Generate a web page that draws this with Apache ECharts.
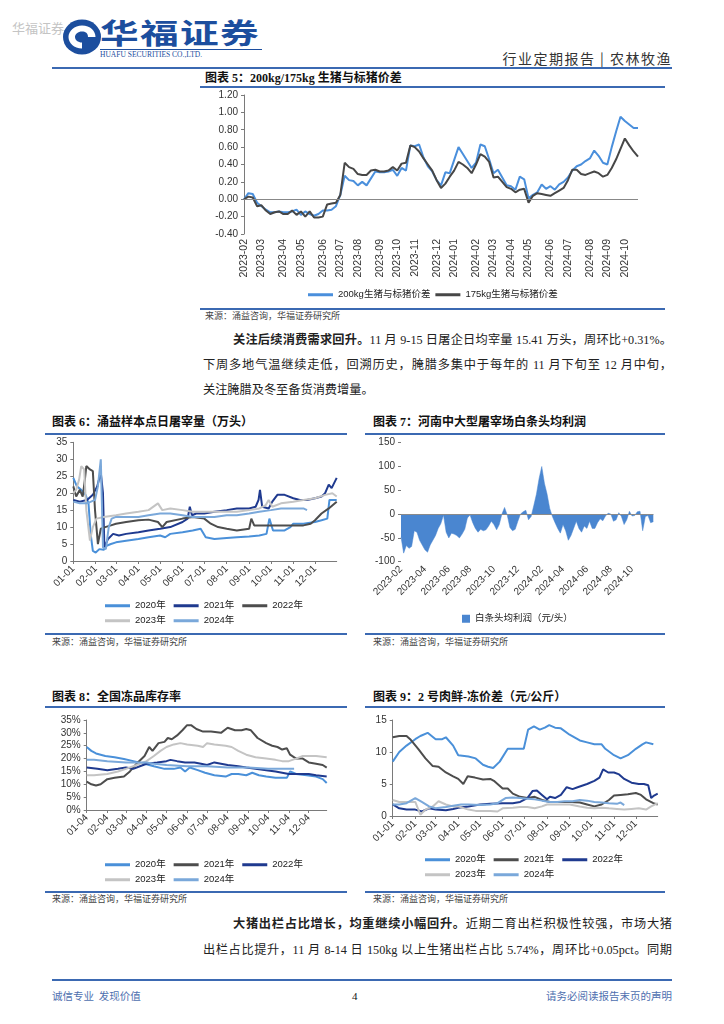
<!DOCTYPE html>
<html><head><meta charset="utf-8"><title>农林牧渔</title>
<script src="https://cdn.jsdelivr.net/npm/echarts@6.0.0/dist/echarts.min.js"></script>
<style>
html,body{margin:0;padding:0;background:#fff}
body{width:724px;height:1024px;position:relative;overflow:hidden;font-family:"Liberation Serif","Noto Sans CJK SC",serif;color:#222}
.a{position:absolute;white-space:nowrap;line-height:1}
.rule{position:absolute;height:1.5px;background:#3B69B2}
.t{font-weight:bold;font-size:12px;color:#111}
.s{font-size:9px;color:#444;font-family:"Noto Sans CJK SC",sans-serif}
.p{font-size:12.2px;color:#222}
.j{text-align:justify;text-align-last:justify}
.c{position:absolute}
</style></head><body>

<!-- header -->
<div class="a" style="left:12px;top:21px;font-size:13px;color:#c4c4c4;font-family:'Noto Sans CJK SC'">华福证券</div>
<svg class="c" style="left:62px;top:18px" width="40" height="38" viewBox="0 0 40 38">
 <ellipse cx="20" cy="19" rx="19" ry="17.5" fill="#1C4E9E"/>
 <path d="M20 7.5 C28.5 7.5 33.5 13 33.5 19 L26 19 C26 15 23.5 13.5 20 13.5 C16 13.5 13 16 13 19 C13 22 16 24.5 20 24.5 L20 30.5 C12 30.5 6.5 25 6.5 19 C6.5 13 12.5 7.5 20 7.5Z" fill="#fff"/>
 <path d="M20 15 L25 19.5 L20 24 L15 19.5Z" fill="#1C4E9E"/>
</svg>
<div class="a" style="left:100px;top:18px;font-size:28px;font-weight:bold;color:#1C4E9E;font-family:'Noto Sans CJK SC';letter-spacing:1px;transform:scaleX(1.38);transform-origin:left top">华福证券</div>
<div class="c" style="left:100px;top:49px;width:162px;height:1px;background:#1C4E9E"></div>
<div class="a" style="left:100px;top:51px;font-size:7.5px;color:#1C4E9E">HUAFU SECURITIES CO.,LTD.</div>
<div class="a" style="right:52px;top:51px;font-size:14px;color:#333;letter-spacing:1.5px;font-family:'Noto Sans CJK SC'">行业定期报告 | 农林牧渔</div>
<div class="c" style="left:52px;top:67px;width:620px;height:2px;background:#3B69B2"></div>

<!-- chart 5 -->
<div class="a t" style="left:205px;top:72px">图表 5：200kg/175kg 生猪与标猪价差</div>
<div class="rule" style="left:200px;top:86px;width:465px"></div>
<div id="c5" class="c" style="left:200px;top:88px;width:470px;height:218px"></div>
<div class="rule" style="left:200px;top:308px;width:465px"></div>
<div class="a s" style="left:205px;top:311px">来源：涌益咨询，华福证券研究所</div>

<!-- paragraph 1 -->
<div class="a p j" style="left:233px;top:334px;width:439px"><b>关注后续消费需求回升。</b>11 月 9-15 日屠企日均宰量 15.41 万头，周环比+0.31%。</div>
<div class="a p j" style="left:203px;top:359px;width:469px">下周多地气温继续走低，回溯历史，腌腊多集中于每年的 11 月下旬至 12 月中旬，</div>
<div class="a p" style="left:203px;top:384px">关注腌腊及冬至备货消费增量。</div>

<!-- chart 6 -->
<div class="a t" style="left:52px;top:416px">图表 6：涌益样本点日屠宰量（万头）</div>
<div class="rule" style="left:45px;top:433px;width:302px"></div>
<div id="c6" class="c" style="left:45px;top:435px;width:300px;height:197px"></div>
<div class="rule" style="left:45px;top:633px;width:302px"></div>
<div class="a s" style="left:52px;top:637px">来源：涌益咨询，华福证券研究所</div>

<!-- chart 7 -->
<div class="a t" style="left:373px;top:416px">图表 7：河南中大型屠宰场白条头均利润</div>
<div class="rule" style="left:365px;top:433px;width:300px"></div>
<div id="c7" class="c" style="left:365px;top:435px;width:300px;height:197px"></div>
<div class="rule" style="left:365px;top:633px;width:300px"></div>
<div class="a s" style="left:373px;top:637px">来源：涌益咨询，华福证券研究所</div>

<!-- chart 8 -->
<div class="a t" style="left:52px;top:691px">图表 8：全国冻品库存率</div>
<div class="rule" style="left:45px;top:706px;width:302px"></div>
<div id="c8" class="c" style="left:45px;top:708px;width:300px;height:182px"></div>
<div class="rule" style="left:45px;top:891px;width:302px"></div>
<div class="a s" style="left:52px;top:894px">来源：涌益咨询，华福证券研究所</div>

<!-- chart 9 -->
<div class="a t" style="left:373px;top:691px">图表 9：2 号肉鲜-冻价差（元/公斤）</div>
<div class="rule" style="left:365px;top:706px;width:300px"></div>
<div id="c9" class="c" style="left:365px;top:708px;width:300px;height:182px"></div>
<div class="rule" style="left:365px;top:891px;width:300px"></div>
<div class="a s" style="left:373px;top:894px">来源：涌益咨询，华福证券研究所</div>

<!-- paragraph 2 -->
<div class="a p j" style="left:233px;top:918px;width:439px"><b>大猪出栏占比增长，均重继续小幅回升。</b>近期二育出栏积极性较强，市场大猪</div>
<div class="a p j" style="left:203px;top:944px;width:469px">出栏占比提升，11 月 8-14 日 150kg 以上生猪出栏占比 5.74%，周环比+0.05pct。同期</div>

<!-- footer -->
<div class="c" style="left:52px;top:979px;width:620px;height:2px;background:#3B69B2"></div>
<div class="a" style="left:52px;top:991px;font-size:10.5px;color:#4E6FAF;font-family:'Noto Sans CJK SC'">诚信专业&nbsp;&nbsp;发现价值</div>
<div class="a" style="left:352px;top:991px;font-size:11px;color:#111">4</div>
<div class="a" style="right:52px;top:991px;font-size:10.5px;color:#4E6FAF;font-family:'Noto Sans CJK SC'">请务必阅读报告末页的声明</div>

<script>
// ---------------- data ----------------
// chart 5: weekly from 2023-02-01
const c5Start = '2023-02-01';
const pig200 = [0.00,0.07,0.06,-0.04,-0.08,-0.12,-0.15,-0.15,-0.14,-0.15,
 -0.15,-0.14,-0.12,-0.18,-0.14,-0.17,-0.19,-0.17,-0.13,-0.13,
 -0.12,-0.08,0.05,0.27,0.22,0.21,0.16,0.20,0.16,0.24,
 0.32,0.31,0.31,0.32,0.34,0.27,0.36,0.33,0.62,0.61,
 0.63,0.48,0.38,0.32,0.22,0.16,0.31,0.30,0.45,0.60,
 0.52,0.44,0.36,0.42,0.63,0.61,0.46,0.30,0.34,0.25,
 0.16,0.15,0.11,0.26,0.23,0.01,0.05,0.08,0.17,0.12,
 0.15,0.11,0.17,0.20,0.25,0.33,0.38,0.40,0.44,0.47,
 0.56,0.50,0.42,0.40,0.60,0.78,0.95,0.90,0.86,0.82,0.82];
const pig175 = [0.00,0.03,0.02,-0.08,-0.07,-0.13,-0.17,-0.15,-0.14,-0.17,
 -0.17,-0.13,-0.18,-0.14,-0.20,-0.14,-0.21,-0.21,-0.20,-0.06,
 -0.05,-0.04,0.05,0.42,0.37,0.35,0.29,0.28,0.28,0.33,
 0.34,0.32,0.32,0.33,0.37,0.33,0.41,0.42,0.62,0.60,
 0.55,0.47,0.40,0.33,0.22,0.13,0.18,0.26,0.33,0.43,
 0.40,0.36,0.30,0.40,0.52,0.49,0.43,0.25,0.26,0.20,
 0.14,0.12,0.08,0.11,0.12,-0.04,0.04,0.07,0.06,0.05,
 0.04,0.07,0.10,0.13,0.22,0.34,0.34,0.29,0.28,0.30,
 0.32,0.30,0.26,0.28,0.36,0.46,0.58,0.70,0.62,0.55,0.49];
const names5 = ['200kg生猪与标猪价差','175kg生猪与标猪价差'];

// chart 6: daily slaughter (万头)
const sl2020 = [['01-01',24.5],['01-06',22],['01-12',21],['01-18',19.5],['01-22',17],['01-25',8],['01-28',3],['02-01',2.5],['02-06',3.5],['02-12',3.3],['02-16',4.5],['02-22',5],['03-01',5.5],['03-15',6],['04-01',6.5],['04-15',7],['05-01',7.5],['05-08',7],['05-15',8],['06-01',8.5],['06-15',9],['06-26',9.5],['07-03',7],['07-15',6.5],['08-01',6.8],['08-15',7],['09-01',7.2],['09-15',7.5],['09-25',8],['09-29',12.5],['10-04',9],['10-20',9],['10-28',10],['11-01',11],['11-15',11],['12-01',11.5],['12-10',12],['12-18',12.5],['12-21',18],['12-31',18]];
const sl2021 = [['01-01',18],['01-10',17.5],['01-20',18],['01-28',19.5],['02-03',22],['02-08',26],['02-11',20],['02-13',4],['02-18',6.5],['02-25',8],['03-05',7.5],['03-15',8],['04-01',8.5],['04-15',9],['05-01',9.5],['05-15',10],['06-01',11.5],['06-08',12.5],['06-11',16],['06-14',13.5],['06-20',14],['07-01',14],['07-15',14.5],['08-01',15],['08-15',15.5],['09-01',15.5],['09-10',16],['09-14',18],['09-16',21],['09-19',16],['09-28',15.5],['10-03',17.5],['10-10',19.5],['10-20',19.5],['11-01',18.5],['11-10',18],['11-20',18],['12-01',18.5],['12-10',19],['12-15',20],['12-20',22.5],['12-24',21.5],['12-31',24.5]];
const sl2022 = [['01-01',22],['01-05',19],['01-10',21],['01-14',19],['01-17',24],['01-19',28],['01-24',27],['01-28',26.5],['01-31',15],['02-04',5],['02-08',9.5],['02-14',10],['02-22',10.5],['03-01',11],['03-15',11.5],['04-01',12],['04-15',12.2],['04-28',11.5],['05-04',10],['05-10',11.5],['06-01',12.5],['06-15',13],['07-01',12.5],['07-10',11],['07-20',10],['08-01',9.5],['08-15',9],['09-01',9.5],['09-04',12.5],['09-08',10.5],['10-01',10.5],['10-15',10.5],['11-01',10.5],['11-15',10.5],['11-25',11],['12-01',12],['12-10',14],['12-20',15.5],['12-31',17.5]];
const sl2023 = [['01-01',20],['01-05',21],['01-09',24],['01-12',28],['01-16',27],['01-19',15],['01-24',6],['01-28',10],['02-02',12.5],['02-12',13],['03-01',13.5],['03-15',14],['04-01',14.5],['04-15',15],['04-28',17],['05-04',15],['05-15',15.5],['06-01',15],['06-15',14.5],['07-01',14.5],['08-01',14.5],['08-15',14.5],['09-01',15],['09-15',15.5],['09-24',16.5],['09-28',18],['10-03',16],['10-15',17],['11-01',17.5],['11-15',18],['12-01',18.5],['12-15',19.5],['12-25',20],['12-31',19]];
const sl2024 = [['01-01',17.5],['01-10',17],['01-20',17],['01-31',18],['02-04',22],['02-08',30],['02-11',4],['02-15',3.5],['02-19',10],['02-23',12.5],['03-01',13],['03-15',13],['04-01',13],['04-15',13.5],['05-01',14],['05-15',14],['06-01',13.5],['06-15',13],['07-01',13],['07-15',13],['08-01',13.5],['08-15',13.5],['09-01',14],['09-15',14.5],['10-01',15],['10-15',15.5],['11-01',15.5],['11-15',15.5],['11-20',15]];

// chart 7: weekly profit (元/头) from 2023-02-01
const c7Start = '2023-02-01';
const profit = [-48,-82,-66,-72,-68,-35,-38,-55,-65,-75,
 -80,-65,-55,-45,-30,-20,-2,-38,-50,-40,
 -42,-45,-50,-42,-32,-8,-2,-18,-30,-38,
 -32,-35,-33,-25,-15,-22,-33,-22,0,14,
 -2,-28,-35,-32,-15,0,5,8,-12,-5,
 18,42,75,100,65,42,12,-5,-18,-30,
 -40,-22,-35,-55,-45,-30,-15,-30,-38,-25,
 -30,-15,-30,-30,-18,-10,-14,-4,2,0,
 -15,-12,3,-5,-22,-12,6,-4,-3,5,
 6,-35,-5,-3,-18,-16];

// chart 8: frozen inventory rate (%)
const inv2020 = [['01-04',24.5],['01-11',23],['01-18',22],['02-01',21],['02-15',20.5],['03-01',19.8],['03-15',19],['04-01',18],['04-15',17],['05-01',16],['05-15',16],['05-25',16.5],['06-01',15],['06-08',16.5],['06-20',15.5],['07-01',14.5],['07-15',13.5],['08-01',13],['08-10',14],['08-20',14],['09-01',13.5],['09-10',14.5],['09-20',13.5],['10-01',13],['10-15',12.5],['11-01',12.5],['11-06',15],['11-15',14],['12-01',13.5],['12-15',13],['12-25',12],['12-31',10.5]];
const inv2021 = [['01-04',11],['01-11',10],['01-18',9.5],['01-25',10],['02-04',12],['02-15',12.5],['03-01',13],['03-10',15],['03-20',18],['04-01',21],['04-08',24.5],['04-13',23],['04-22',26],['05-01',26.5],['05-06',28],['05-12',27.5],['05-20',29],['05-28',31],['06-04',33],['06-10',33],['06-18',31.5],['06-28',30.5],['07-10',30.5],['07-25',30],['08-04',32],['08-15',31],['08-25',31],['09-01',31.5],['09-08',31],['09-18',28],['10-01',26],['10-10',25],['10-18',24.5],['10-25',23.5],['11-01',24],['11-06',21.5],['11-15',20],['11-25',20],['12-04',18.5],['12-15',18],['12-25',17.5],['12-31',16.5]];
const inv2022 = [['01-04',16.5],['01-20',16],['02-04',15.5],['02-20',16],['03-04',16.5],['03-15',16],['03-25',17],['04-04',18],['04-20',18.5],['05-04',19],['05-10',19.5],['05-20',19],['06-01',18.5],['06-15',18.5],['06-25',18],['07-04',17.5],['07-15',18.5],['07-25',18],['08-04',17.5],['08-20',17],['09-01',16.5],['09-15',16],['10-01',15.5],['10-15',15],['10-25',14.5],['11-04',14],['11-25',14],['12-04',14],['12-15',13.5],['12-31',13]];
const inv2023 = [['01-04',13.5],['01-15',13.5],['02-04',14],['02-20',15],['03-04',16],['03-20',17.5],['04-04',19],['04-15',21],['04-25',23],['05-04',24.5],['05-15',25.5],['05-25',26],['06-04',25.5],['06-20',25],['06-28',24.5],['07-04',26],['07-15',25.5],['08-01',25],['08-10',24.5],['08-20',23],['09-01',21.5],['09-15',20.5],['10-01',20],['10-15',19.5],['10-25',19],['11-04',19],['11-15',20],['11-25',21],['12-04',21],['12-15',21],['12-31',20.5]];
const inv2024 = [['01-04',19.5],['01-15',19.5],['02-04',19],['03-04',18.5],['03-20',18.5],['04-04',18.5],['04-15',18],['05-04',17.5],['06-04',17],['07-04',17],['08-04',16.5],['09-04',16.5],['10-04',16],['11-04',16],['11-12',16]];

// chart 9: fresh-frozen spread (元/公斤)
const sp2020 = [['01-01',8.5],['01-10',10],['01-20',11],['02-01',12],['02-08',12.5],['02-18',13],['03-01',12],['03-10',12],['03-15',12.3],['03-25',11],['04-01',9.5],['04-15',9.3],['04-25',9],['05-05',8],['05-12',7.7],['05-19',7.5],['05-28',8.5],['06-08',10.5],['06-20',10.5],['06-30',10.5],['07-06',13.5],['07-14',14],['07-22',13.5],['07-29',13.8],['08-04',14.2],['08-12',13.8],['08-20',13.7],['09-01',12.7],['09-15',11.8],['09-25',11.5],['10-05',11.2],['10-15',11.2],['10-20',10.5],['11-01',9.5],['11-10',9],['11-20',9.5],['12-01',10.5],['12-10',11.2],['12-15',11.5],['12-25',11.2]];
const sp2021 = [['01-01',12.3],['01-10',12.5],['01-20',12.5],['01-25',12],['02-05',10.5],['02-15',9],['02-25',7.8],['03-05',7.7],['03-15',6.8],['03-25',6.2],['04-01',5.8],['04-08',5],['04-14',6.2],['04-24',6],['05-05',5.7],['05-15',5.8],['05-20',5.5],['06-01',4.3],['06-08',4.3],['06-15',3.5],['06-25',3],['07-05',2.8],['07-15',3],['07-25',2.5],['08-05',2.2],['08-20',2.2],['09-01',2.2],['09-15',2.1],['09-25',1.8],['10-05',1.5],['10-15',1.8],['10-25',2.5],['11-01',3.2],['11-10',3.3],['11-20',3.4],['12-01',3.6],['12-08',3.3],['12-15',2.6],['12-25',2],['12-31',1.8]];
const sp2022 = [['01-01',1.8],['01-10',1.2],['01-20',1.0],['02-01',1.0],['02-10',0.7],['02-20',1.2],['03-01',1.0],['03-15',0.9],['03-25',1.1],['04-01',1.3],['04-15',1.5],['05-01',1.8],['05-15',1.9],['06-01',2],['06-15',2],['06-25',2.2],['07-05',2.8],['07-12',3.9],['07-18',4],['07-25',3.3],['08-01',2.6],['08-05',3],['08-12',2.8],['08-20',3.3],['08-28',4.5],['09-05',4.2],['09-12',4.5],['09-25',5],['10-05',5.5],['10-12',6],['10-17',7.3],['10-24',6.8],['11-01',6.8],['11-08',6.5],['11-15',5.8],['11-25',5.2],['12-05',5],['12-12',5],['12-18',4.8],['12-22',2.8],['12-26',3.2],['12-31',3.5]];
const sp2023 = [['01-01',2.5],['01-10',2.2],['01-25',2.2],['02-01',2.2],['02-08',0.2],['02-15',1.0],['02-25',1.5],['03-05',2.3],['03-15',1.8],['03-25',1.5],['04-01',1.5],['04-15',1.0],['04-25',0.8],['05-05',0.8],['05-15',0.8],['05-25',0.7],['06-01',1.2],['06-15',1.3],['06-25',1.4],['07-05',1.4],['07-15',1.2],['07-25',1.5],['08-01',1.8],['08-15',1.8],['09-01',1.8],['09-15',1.5],['09-25',1.3],['10-05',1.2],['10-15',1.3],['10-25',1.2],['11-05',1.1],['11-15',1.0],['11-25',1.1],['12-05',1.2],['12-15',1.0],['12-22',1.5],['12-31',2]];
const sp2024 = [['01-01',1.8],['01-10',1.8],['01-20',2.0],['02-01',2.8],['02-10',2.2],['02-20',1.5],['03-01',1.2],['03-15',1.4],['03-25',1.6],['04-05',1.8],['04-15',1.8],['05-01',1.7],['05-15',1.8],['05-25',2],['06-05',2.8],['06-15',2.9],['06-25',2.8],['07-05',2.7],['07-15',2.6],['07-25',2.4],['08-05',2.2],['08-15',2.2],['08-25',2.3],['09-05',2.3],['09-15',2.5],['09-25',2.4],['10-05',2.2],['10-15',2.1],['10-25',2.0],['11-05',1.9],['11-10',2.1],['11-15',1.7]];

const years = ['2020年','2021年','2022年','2023年','2024年'];

// ---------------- helpers ----------------
const FONT = '"Liberation Sans", Arial, "Noto Sans CJK SC", sans-serif';
const AX = '#7a7a7a', LBL = '#333';
function weekly(start, n){ const out=[]; const t0=Date.parse(start+'T00:00:00Z'); for(let i=0;i<n;i++){ out.push(new Date(t0+i*7*86400000).toISOString().slice(0,10)); } return out; }
function dayCats(startMD){ const out=[]; const t0=Date.UTC(2023,0,1); for(let i=0;i<365;i++){ out.push(new Date(t0+i*86400000).toISOString().slice(5,10)); } return out.slice(out.indexOf(startMD)); }
function monthFlags(dates){ return dates.map((d,i)=> i===0 || d.slice(5,7)!==dates[i-1].slice(5,7)); }
function line(name, data, color, w){ return {name, type:'line', data, symbol:'none', smooth:false, lineStyle:{color, width:w||2}, itemStyle:{color}, emphasis:{disabled:true}, z:2}; }
function legendRow(top, left, data){ return {top, left, data, icon:'rect', itemWidth:25, itemHeight:3, itemGap:8, padding:0, textStyle:{fontSize:9.5, color:'#222', fontFamily:FONT}}; }
function yAx(min,max,iv,fmt,showLine){ return {type:'value', min, max, interval:iv, splitLine:{show:false}, axisLine:{show:showLine!==false, lineStyle:{color:AX}}, axisTick:{show:true, length:3, lineStyle:{color:AX}}, axisLabel:{fontSize:10, color:LBL, fontFamily:FONT, margin:6, formatter:fmt}}; }
function dayAxis(cats, day){ const f=(i,v)=>v.slice(3)===day; return {type:'category', data:cats, boundaryGap:false, axisLine:{lineStyle:{color:AX}}, axisTick:{interval:f, length:3, lineStyle:{color:AX}}, axisLabel:{interval:f, rotate:45, fontSize:10, color:LBL, fontFamily:FONT, margin:6}}; }
const mk = (el)=>echarts.init(document.getElementById(el), null, {renderer:'canvas'});

// ---------------- chart 5 ----------------
const d5 = weekly(c5Start, pig200.length), f5 = monthFlags(d5);
mk('c5').setOption({
  animation:false,
  grid:{left:44, top:7, width:394, height:139},
  xAxis:{type:'category', data:d5, boundaryGap:false, axisLine:{show:false}, axisTick:{show:false},
    axisLabel:{interval:(i)=>f5[i], rotate:90, fontSize:10.5, color:LBL, fontFamily:FONT, margin:5, formatter:v=>v.slice(0,7)}},
  yAxis:yAx(-0.4,1.2,0.2,v=>v.toFixed(2)),
  legend:{top:202, left:108, data:names5, icon:'rect', itemWidth:25, itemHeight:3, itemGap:5, padding:0, textStyle:{fontSize:9.5, color:'#222', fontFamily:FONT}},
  series:[
    Object.assign(line(names5[0], pig200, '#4A8FDC', 2), {markLine:{silent:true, symbol:'none', label:{show:false}, lineStyle:{color:'#888', width:1, type:'solid'}, data:[{yAxis:0}]}}),
    line(names5[1], pig175, '#474747', 2)
  ]
});

// ---------------- chart 6 ----------------
const cats6 = dayCats('01-01');
const col6 = ['#4A90D9','#1F3A8F','#4D4D4D','#C4C4C4','#7AA8DA'];
mk('c6').setOption({
  animation:false,
  grid:{left:28.3, top:7.3, width:263.4, height:118.7},
  xAxis:dayAxis(cats6,'01'),
  yAxis:yAx(0,35,5),
  legend:[legendRow(166,60,years.slice(0,3)), legendRow(181,60,years.slice(3))],
  series:[line(years[0],sl2020,col6[0]), line(years[1],sl2021,col6[1]), line(years[2],sl2022,col6[2]), line(years[3],sl2023,col6[3]), line(years[4],sl2024,col6[4])]
});

// ---------------- chart 7 ----------------
const d7 = weekly(c7Start, profit.length), f7 = monthFlags(d7);
const show7 = (i)=> f7[i] && (+d7[i].slice(5,7))%2===0;
mk('c7').setOption({
  animation:false,
  grid:{left:36, top:7.7, width:252.3, height:119},
  xAxis:{type:'category', data:d7, boundaryGap:false, axisLine:{show:false}, axisTick:{show:false},
    axisLabel:{interval:show7, rotate:45, fontSize:10, color:LBL, fontFamily:FONT, margin:6, formatter:v=>v.slice(0,7)}},
  yAxis:yAx(-100,150,50,undefined,false),
  legend:{top:179, left:97, data:['白条头均利润（元/头）'], icon:'rect', itemWidth:8, itemHeight:8, itemGap:5, padding:0, textStyle:{fontSize:9.5, color:'#222', fontFamily:FONT}},
  series:[{name:'白条头均利润（元/头）', type:'line', data:profit, symbol:'none', lineStyle:{width:0.5, color:'#4A86D0'}, itemStyle:{color:'#4A86D0'}, areaStyle:{color:'#4A86D0', opacity:1}, emphasis:{disabled:true},
    markLine:{silent:true, symbol:'none', label:{show:false}, lineStyle:{color:'#8a8a8a', width:1, type:'solid'}, data:[{yAxis:0}]}}]
});

// ---------------- chart 8 ----------------
const cats8 = dayCats('01-04');
const col89 = ['#4A90D9','#4D4D4D','#1F3A8F','#C4C4C4','#7AA8DA'];
mk('c8').setOption({
  animation:false,
  grid:{left:41.7, top:12, width:240, height:90},
  xAxis:dayAxis(cats8,'04'),
  yAxis:yAx(0,35,5,'{value}%'),
  legend:[legendRow(152,60,years.slice(0,3)), legendRow(167,60,years.slice(3))],
  series:[line(years[0],inv2020,col89[0]), line(years[1],inv2021,col89[1]), line(years[2],inv2022,col89[2]), line(years[3],inv2023,col89[3]), line(years[4],inv2024,col89[4])]
});

// ---------------- chart 9 ----------------
mk('c9').setOption({
  animation:false,
  grid:{left:27.7, top:12, width:265, height:96},
  xAxis:dayAxis(cats6,'01'),
  yAxis:yAx(0,15,5),
  legend:[legendRow(147,60,years.slice(0,3)), legendRow(162,60,years.slice(3))],
  series:[line(years[0],sp2020,col89[0]), line(years[1],sp2021,col89[1]), line(years[2],sp2022,col89[2]), line(years[3],sp2023,col89[3]), line(years[4],sp2024,col89[4])]
});
</script>
</body></html>
